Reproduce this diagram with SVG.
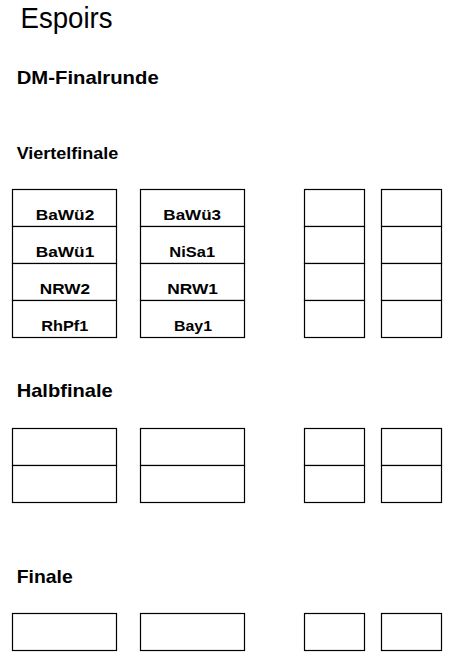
<svg xmlns="http://www.w3.org/2000/svg" width="451" height="662" viewBox="0 0 451 662">
<style>
.cell{fill:#fff;stroke:#000;stroke-width:1.2}
.h{font-family:"Liberation Sans",Arial,sans-serif;fill:#000}
.b{font-weight:bold}
.t{font-family:"Liberation Sans",Arial,sans-serif;font-weight:bold;font-size:15px;text-anchor:middle;fill:#000}
</style>
<rect width="451" height="662" fill="#fff"/>
<g id="titles">
<text class="h" x="20.5" y="28.3" font-size="30" textLength="92" lengthAdjust="spacingAndGlyphs">Espoirs</text>
<text class="h b" x="16.7" y="84.3" font-size="18.6" textLength="142" lengthAdjust="spacingAndGlyphs">DM-Finalrunde</text>
<text class="h b" x="16.7" y="159.3" font-size="16" textLength="101.6" lengthAdjust="spacingAndGlyphs">Viertelfinale</text>
<text class="h b" x="16.7" y="397.3" font-size="18.6" textLength="96" lengthAdjust="spacingAndGlyphs">Halbfinale</text>
<text class="h b" x="16.7" y="582.7" font-size="18.6" textLength="56" lengthAdjust="spacingAndGlyphs">Finale</text>
</g>
<g id="vf-a">
<rect class="cell" x="12.5" y="189.5" width="104" height="37"/>
<rect class="cell" x="12.5" y="226.5" width="104" height="37"/>
<rect class="cell" x="12.5" y="263.5" width="104" height="37"/>
<rect class="cell" x="12.5" y="300.5" width="104" height="37"/>
<text class="t" x="65" y="219.5" textLength="58.6" lengthAdjust="spacingAndGlyphs">BaWü2</text>
<text class="t" x="65" y="256.5" textLength="58.6" lengthAdjust="spacingAndGlyphs">BaWü1</text>
<text class="t" x="65" y="293.5" textLength="50.3" lengthAdjust="spacingAndGlyphs">NRW2</text>
<text class="t" x="64.8" y="330.5" textLength="47" lengthAdjust="spacingAndGlyphs">RhPf1</text>
</g>
<g id="vf-b">
<rect class="cell" x="140.5" y="189.5" width="104" height="37"/>
<rect class="cell" x="140.5" y="226.5" width="104" height="37"/>
<rect class="cell" x="140.5" y="263.5" width="104" height="37"/>
<rect class="cell" x="140.5" y="300.5" width="104" height="37"/>
<text class="t" x="192.2" y="219.5" textLength="57.7" lengthAdjust="spacingAndGlyphs">BaWü3</text>
<text class="t" x="192.2" y="256.5" textLength="45.7" lengthAdjust="spacingAndGlyphs">NiSa1</text>
<text class="t" x="192.6" y="293.5" textLength="50.7" lengthAdjust="spacingAndGlyphs">NRW1</text>
<text class="t" x="193" y="330.5" textLength="38" lengthAdjust="spacingAndGlyphs">Bay1</text>
</g>
<g id="vf-c">
<rect class="cell" x="304.5" y="189.5" width="60" height="37"/>
<rect class="cell" x="304.5" y="226.5" width="60" height="37"/>
<rect class="cell" x="304.5" y="263.5" width="60" height="37"/>
<rect class="cell" x="304.5" y="300.5" width="60" height="37"/>
</g>
<g id="vf-d">
<rect class="cell" x="381.5" y="189.5" width="60" height="37"/>
<rect class="cell" x="381.5" y="226.5" width="60" height="37"/>
<rect class="cell" x="381.5" y="263.5" width="60" height="37"/>
<rect class="cell" x="381.5" y="300.5" width="60" height="37"/>
</g>
<g id="hf-a">
<rect class="cell" x="12.5" y="428.5" width="104" height="37"/>
<rect class="cell" x="12.5" y="465.5" width="104" height="37"/>
</g>
<g id="hf-b">
<rect class="cell" x="140.5" y="428.5" width="104" height="37"/>
<rect class="cell" x="140.5" y="465.5" width="104" height="37"/>
</g>
<g id="hf-c">
<rect class="cell" x="304.5" y="428.5" width="60" height="37"/>
<rect class="cell" x="304.5" y="465.5" width="60" height="37"/>
</g>
<g id="hf-d">
<rect class="cell" x="381.5" y="428.5" width="60" height="37"/>
<rect class="cell" x="381.5" y="465.5" width="60" height="37"/>
</g>
<g id="f-a"><rect class="cell" x="12.5" y="613.5" width="104" height="37"/></g>
<g id="f-b"><rect class="cell" x="140.5" y="613.5" width="104" height="37"/></g>
<g id="f-c"><rect class="cell" x="304.5" y="613.5" width="60" height="37"/></g>
<g id="f-d"><rect class="cell" x="381.5" y="613.5" width="60" height="37"/></g>
<g id="connectors"/>
</svg>
